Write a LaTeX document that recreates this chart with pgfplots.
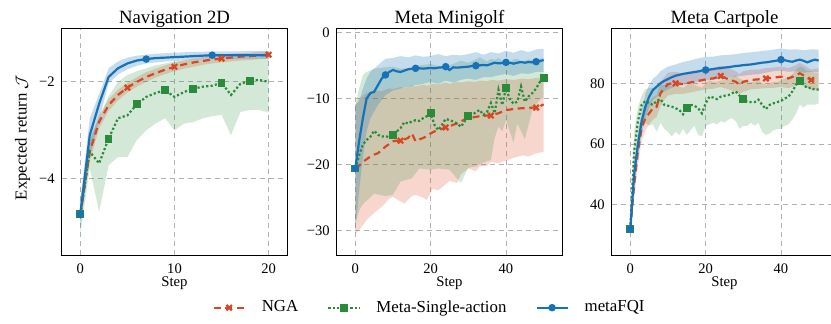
\documentclass[border=0pt]{standalone}
\usepackage{pgfplots}
\pgfplotsset{compat=1.18}
\usepackage{pgfplotstable}
\usepgfplotslibrary{fillbetween}
\usepackage{fontspec}
\setmainfont{Liberation Serif}

\definecolor{ngared}{RGB}{217,70,34}
\definecolor{msagreen}{RGB}{42,140,58}
\definecolor{fqiblue}{RGB}{22,114,184}

% Panel 1: Navigation 2D
\pgfplotstableread{
x fqi fqil fqiu nga ngal ngau msa msal msau
0 -4.73 -5.00 -4.45 -4.73 -4.88 -4.58 -4.73 -5.15 -4.40
1 -3.10 -3.55 -2.75 -3.44 -3.64 -3.24 -3.44 -3.78 -3.16
2 -2.45 -2.78 -2.25 -2.82 -2.96 -2.68 -3.68 -4.68 -2.75
3 -1.90 -2.03 -1.72 -2.48 -2.60 -2.36 -3.17 -3.72 -2.30
4 -1.72 -1.85 -1.58 -2.27 -2.38 -2.16 -2.75 -3.55 -2.00
5 -1.62 -1.74 -1.50 -2.12 -2.22 -2.02 -2.69 -3.55 -1.86
6 -1.56 -1.67 -1.46 -2.00 -2.10 -1.90 -2.46 -3.20 -1.78
7 -1.53 -1.62 -1.44 -1.90 -2.00 -1.80 -2.31 -3.00 -1.72
8 -1.51 -1.60 -1.42 -1.82 -1.91 -1.73 -2.23 -2.86 -1.66
9 -1.50 -1.58 -1.41 -1.75 -1.84 -1.66 -2.17 -2.75 -1.62
10 -1.49 -1.57 -1.40 -1.69 -1.78 -1.60 -2.31 -3.00 -1.58
11 -1.48 -1.56 -1.39 -1.64 -1.73 -1.56 -2.21 -2.86 -1.56
12 -1.47 -1.55 -1.38 -1.60 -1.69 -1.52 -2.14 -2.83 -1.55
13 -1.46 -1.54 -1.38 -1.57 -1.65 -1.49 -2.10 -2.75 -1.54
14 -1.45 -1.53 -1.37 -1.54 -1.62 -1.46 -2.08 -2.71 -1.53
15 -1.45 -1.53 -1.37 -1.52 -1.60 -1.44 -2.02 -2.68 -1.52
16 -1.45 -1.53 -1.37 -1.50 -1.58 -1.42 -2.27 -3.10 -1.52
17 -1.45 -1.52 -1.37 -1.48 -1.56 -1.41 -2.04 -2.62 -1.50
18 -1.45 -1.52 -1.36 -1.47 -1.55 -1.40 -1.98 -2.58 -1.50
19 -1.45 -1.52 -1.36 -1.455 -1.53 -1.38 -1.96 -2.58 -1.50
20 -1.45 -1.52 -1.36 -1.44 -1.52 -1.37 -2.00 -2.63 -1.50
}\pone

% Panel 2: Meta Minigolf
\pgfplotstableread{
x nga msa fqi
0 -20.6 -20.6 -20.6
1 -20.2 -18.6 -16.5
2 -19.6 -17.0 -13.0
3 -19.2 -16.3 -10.0
4 -18.8 -15.8 -9.2
5 -18.5 -14.9 -9.0
6 -18.3 -15.5 -8.0
7 -17.8 -15.8 -7.0
8 -17.3 -15.7 -6.45
9 -16.9 -15.9 -6.0
10 -16.5 -15.5 -5.7
11 -16.4 -15.0 -5.9
12 -16.4 -14.5 -6.0
13 -16.2 -13.6 -5.8
14 -16.0 -13.8 -5.6
15 -15.3 -13.5 -5.5
16 -16.5 -13.3 -5.45
17 -16.2 -13.4 -5.45
18 -16.0 -13.0 -5.5
19 -15.7 -12.7 -5.45
20 -15.3 -12.25 -5.4
21 -15.0 -14.0 -5.45
22 -14.8 -14.8 -5.35
23 -14.6 -14.0 -5.3
24 -14.4 -13.1 -5.2
25 -14.2 -13.3 -5.7
26 -14.0 -13.5 -5.3
27 -13.8 -13.8 -5.35
28 -13.5 -14.3 -5.3
29 -13.2 -13.5 -5.25
30 -13.0 -12.65 -5.2
31 -12.9 -12.5 -5.1
32 -12.8 -12.1 -5.05
33 -12.7 -11.75 -5.0
34 -12.65 -12.5 -4.95
35 -12.6 -12.0 -5.0
36 -12.6 -10.7 -4.8
37 -12.4 -12.25 -4.6
38 -12.25 -8.7 -4.7
39 -12.0 -11.0 -4.65
40 -11.75 -8.47 -4.55
41 -11.7 -10.1 -4.6
42 -11.6 -10.8 -4.75
43 -11.55 -10.5 -4.6
44 -11.5 -8.2 -4.5
45 -11.5 -10.5 -4.6
46 -11.45 -9.7 -4.5
47 -11.4 -9.2 -4.55
48 -11.4 -8.5 -4.45
49 -11.2 -7.5 -4.35
50 -10.9 -6.86 -4.2
}\ptwo

\pgfplotstableread{
x lo hi
0 -30.5 -11
1 -29.9 -10
3 -28.4 -9.2
5 -27.3 -8.8
7 -26.4 -8.9
9 -25.2 -8.5
10 -24.9 -8.6
12 -25.6 -8.3
13 -25.9 -8.4
15 -24.8 -8.0
16 -24.6 -8.2
18 -25.0 -7.9
19 -25.4 -8.1
20.5 -23.7 -7.8
22 -23.9 -7.9
24 -23.0 -7.6
25 -22.5 -7.8
27 -22.8 -7.5
28 -21.5 -7.6
30 -20.6 -7.4
32 -21.0 -7.5
33 -20.3 -7.3
35 -20.2 -7.4
36 -19.6 -7.2
38 -19.8 -7.3
40 -19.4 -7.1
42 -19.0 -7.2
44.5 -18.6 -7.0
46 -18.8 -7.1
48 -18.3 -6.9
50 -18.1 -6.8
}\ptwonga

\pgfplotstableread{
x lo hi
0 -29 -11
1 -27 -8.5
2 -26 -6.5
3 -25.5 -6.0
5 -24.4 -5.5
8 -24.8 -5.3
10 -24.6 -5.2
12 -22.6 -5.5
15 -22.1 -5.4
17 -20.6 -5.0
20 -20.8 -4.8
22 -20.6 -5.1
25 -20.8 -5.0
28 -22.8 -4.3
30 -20.5 -4.6
32 -20.3 -4.1
33 -20.0 -3.8
35 -19.5 -4.4
36 -19.3 -4.0
37 -16.0 -4.2
38 -14.3 -3.9
39 -15.0 -4.3
40 -13.3 -4.2
41 -15.0 -4.5
42 -16.7 -4.1
43 -13.8 -4.0
44 -15.0 -4.4
45 -16.2 -4.3
46 -14.0 -4.1
47 -11.7 -4.2
49 -10.2 -4.0
50 -9.9 -3.9
}\ptwomsa

\pgfplotstableread{
x lo hi
0 -30 -11
1 -24 -10.5
2 -19 -8.5
3 -15 -7
4 -13 -6
6 -11 -5
8 -9.5 -4.0
10 -8.8 -3.9
12 -8.5 -3.6
14 -8.2 -3.8
16 -8.0 -3.5
18 -7.8 -3.7
20 -7.5 -3.6
22 -7.8 -3.3
24 -7.3 -3.6
26 -7.6 -3.4
28 -7.2 -3.5
30 -7.0 -3.3
32 -7.2 -3.0
34 -6.8 -3.4
36 -6.8 -3.0
38 -6.5 -3.2
40 -6.3 -2.8
42 -6.6 -3.1
44 -6.2 -2.7
46 -6.3 -3.0
48 -6.0 -2.6
50 -6.0 -2.5
}\ptwofqi

% Panel 3: Meta Cartpole
\pgfplotstableread{
x nga msa fqi
0 32.0 32.0 32.0
1 46.5 57.5 49.8
2 57.5 67.4 59.7
3 65.2 72.9 67.4
4 68.5 74.2 72.3
5 70.1 73.4 75.6
6 71.8 72.9 77.8
7 72.3 74.2 78.9
8 76.7 74.8 80.0
9 78.4 72.9 80.8
10 79.7 72.6 81.4
11 80.0 72.3 82.0
12 80.0 71.8 82.5
13 79.9 71.2 82.8
14 79.7 69.8 83.1
15 80.0 71.8 83.3
16 80.3 72.9 83.5
17 80.5 72.6 83.7
18 80.8 71.8 83.9
19 81.0 70.1 84.2
20 81.3 73.4 84.4
21 81.5 75.6 84.5
22 81.6 75.3 84.7
23 82.0 74.8 84.9
24 82.4 75.6 85.0
25 81.9 75.9 85.2
26 81.3 76.1 85.3
27 80.9 76.7 85.5
28 80.5 77.3 85.7
29 79.5 75.9 85.8
30 80.5 74.7 86.0
31 80.8 74.0 86.1
32 81.1 73.8 86.2
33 81.2 73.8 86.4
34 81.3 74.6 86.6
35 81.4 72.9 86.8
36 81.6 71.5 86.9
37 81.7 72.9 87.1
38 81.9 73.4 87.3
39 82.0 73.8 87.5
40 82.2 74.2 87.8
41 81.9 75.0 87.6
42 81.6 75.6 87.3
43 82.1 77.3 87.1
44 82.7 79.5 87.5
45 83.3 80.8 87.8
46 82.6 79.5 87.4
47 81.8 78.4 86.9
48 81.1 78.6 87.4
49 81.3 77.8 87.8
50 81.6 78.0 87.5
}\pthree

\pgfplotstableread{
x lo hi
0 30.5 33.5
1 42 51
2 53 62
3 61 69
4 64.5 72.5
5 66.5 74
6 68 75.5
7 69 76
8 72.5 80.5
9 74.5 82
10 76 83.5
12 76.5 83.8
14 76.5 83.2
16 77 84
18 77.5 84.2
20 78 84.8
22 78.2 85
24 78.8 85.8
26 78 85
28 77.2 84
29 76.5 83
30 77.2 84
32 78 84.5
34 78.2 84.5
36 78.4 85
38 78.5 85.2
40 78.8 85.5
42 78.4 85
44 79.2 86
45 79.8 86.8
46 79.2 86
48 77.8 84.5
50 78 85
}\pthreenga

\pgfplotstableread{
x lo hi
0 30 33.5
1 50 64
2 60 72
3 66 76
4 67 78
5 66 78.5
6 66.5 78.5
7 64 79
8 67 79.5
9 65 79.5
10 64 79.5
11 62.5 79
12 64 79.5
13 63 79
14 65 78.5
15 63 79.5
16 64.5 80
17 66 79.5
18 63 79
19 62.5 78.5
20 66 80
21 66.5 81
22 67 80.5
23 66.5 80.5
24 67.5 81
25 67 81
26 68 81.5
27 68.5 82
28 67.5 82.5
29 65 81.5
30 66 81
31 66 80.5
32 67 80.5
33 66 80.5
34 67 81
35 64 80
36 63 79.5
37 63.5 80
38 64.5 80.5
39 65 80.5
40 65 81
41 66 81.5
42 66.5 82
43 68 83
44 70 84.5
45 73 85.5
46 72 85
47 73 84
48 73 84
49 73 83.5
50 73.4 83.5
}\pthreemsa

\pgfplotstableread{
x lo hi
0 30.5 33.5
1 46 53.5
2 56 63.5
3 63.5 71
4 68.5 76.5
5 72 79.5
6 74.5 81.5
7 75.5 82.5
8 76.5 84
10 78 85.5
12 79 86.2
14 79.5 87
16 80 87.6
18 80.5 88.2
20 81 88.7
22 81.2 88.8
24 81.5 89.2
26 81.8 89.4
28 82.2 89.6
30 82.5 90
32 82.8 90.2
34 83 90.5
36 83.5 90.8
38 84 91.1
40 84.2 91.5
42 83.8 91.1
44 84 91.2
46 83.5 90.9
48 83.8 91.2
50 83.8 91.1
}\pthreefqi

\pgfplotsset{
  every axis title shift=0pt,
  panel/.style={
    scale only axis, width=113bp, height=113bp,
    anchor=north west,
    grid=major,
    major grid style={dash pattern=on 2.5bp off 2bp, gray!60, line width=0.4bp},
    axis line style={line width=0.5bp},
    tick style={draw=none},
    tick label style={font=\rmfamily\fontsize{7.3}{8}\selectfont},
    xticklabel style={anchor=base, yshift=-9.15bp},
    yticklabel style={anchor=east, inner sep=0pt, xshift=-3.25bp},
    title style={font=\rmfamily\fontsize{9.4}{11}\selectfont, at={(axis description cs:0.5,1)}, anchor=base, yshift=2.85bp},
    xlabel={Step},
    xlabel style={font=\rmfamily\fontsize{7.4}{9}\selectfont, at={(axis description cs:0.5,0)}, anchor=base, yshift=-15.85bp},
    legend image code/.code={\draw[mark repeat=2,mark phase=2,##1] plot coordinates {(0bp,0bp) (7.75bp,0bp) (15.5bp,0bp)};},
  },
  ngaline/.style={ngared, line width=1.1bp, dash pattern=on 3.5bp off 2.3bp, mark=x, mark size=1.9bp, mark options={solid, line width=1.1bp}},
  msaline/.style={msagreen, line width=1.1bp, dash pattern=on 1.1bp off 1.1bp, mark=square*, mark size=1.4bp, mark options={solid}},
  fqiline/.style={fqiblue, line width=1.1bp, mark=*, mark size=1.3bp, mark options={solid}},
  band/.style={draw=none, forget plot},
}

\begin{document}
\begin{tikzpicture}
% ---------------- Panel 1 ----------------
\begin{axis}[panel, at={(30.75bp,147.5bp)},
  title={Navigation 2D},
  xmin=-2, xmax=22, ymin=-5.57, ymax=-0.91,
  xtick={0,10,20}, xticklabels={0,10,20},
  ytick={-4,-2}, yticklabels={−4,−2},
  ylabel={Expected return $\mathcal{J}$},
  ylabel style={font=\rmfamily\fontsize{8.4}{10}\selectfont, at={(axis description cs:-0.154,0.52)}, anchor=base},
]
\addplot[band, name path=aNU] table[x=x,y=ngau]{\pone};
\addplot[band, name path=aNL] table[x=x,y=ngal]{\pone};
\addplot[fill=ngared, fill opacity=0.22, forget plot] fill between[of=aNU and aNL];
\addplot[band, name path=aMU] table[x=x,y=msau]{\pone};
\addplot[band, name path=aML] table[x=x,y=msal]{\pone};
\addplot[fill=msagreen, fill opacity=0.2, forget plot] fill between[of=aMU and aML];
\addplot[band, name path=aFU] table[x=x,y=fqiu]{\pone};
\addplot[band, name path=aFL] table[x=x,y=fqil]{\pone};
\addplot[fill=fqiblue, fill opacity=0.25, forget plot] fill between[of=aFU and aFL];
\addplot[ngaline, mark repeat=5] table[x=x,y=nga]{\pone};
\addplot[msaline, mark repeat=3] table[x=x,y=msa]{\pone};
\addplot[fqiline, mark repeat=7] table[x=x,y=fqi]{\pone};
\end{axis}
% ---------------- Panel 2 ----------------
\begin{axis}[panel, at={(168.25bp,147.5bp)},
  title={Meta Minigolf},
  xmin=-5, xmax=55, ymin=-33.7, ymax=0.5,
  xtick={0,20,40}, xticklabels={0,20,40},
  ytick={-30,-20,-10,0}, yticklabels={−30,−20,−10,0},
  legend style={at={(axis description cs:0.414,-0.233)}, anchor=center, draw=none, fill=none,
    font=\rmfamily\fontsize{8.45}{10}\selectfont, legend columns=3,
    /tikz/every odd column/.append style={column sep=6.5bp},
    /tikz/every even column/.append style={column sep=13bp},
    nodes={inner sep=1.5bp}},
]
\addplot[band, name path=bNU] table[x=x,y=hi]{\ptwonga};
\addplot[band, name path=bNL] table[x=x,y=lo]{\ptwonga};
\addplot[fill=ngared, fill opacity=0.22, forget plot] fill between[of=bNU and bNL];
\addplot[band, name path=bMU] table[x=x,y=hi]{\ptwomsa};
\addplot[band, name path=bML] table[x=x,y=lo]{\ptwomsa};
\addplot[fill=msagreen, fill opacity=0.2, forget plot] fill between[of=bMU and bML];
\addplot[band, name path=bFU] table[x=x,y=hi]{\ptwofqi};
\addplot[band, name path=bFL] table[x=x,y=lo]{\ptwofqi};
\addplot[fill=fqiblue, fill opacity=0.25, forget plot] fill between[of=bFU and bFL];
\addplot[ngaline, mark repeat=12] table[x=x,y=nga]{\ptwo};
\addplot[msaline, mark repeat=10] table[x=x,y=msa]{\ptwo};
\addplot[fqiline, mark repeat=8] table[x=x,y=fqi]{\ptwo};
\legend{NGA, Meta-Single-action, metaFQI}
\end{axis}
% ---------------- Panel 3 ----------------
\begin{axis}[panel, at={(305.75bp,147.5bp)},
  title={Meta Cartpole},
  xmin=-5, xmax=55, ymin=23.4, ymax=97.9,
  xtick={0,20,40}, xticklabels={0,20,40},
  ytick={40,60,80}, yticklabels={40,60,80},
]
\addplot[band, name path=cNU] table[x=x,y=hi]{\pthreenga};
\addplot[band, name path=cNL] table[x=x,y=lo]{\pthreenga};
\addplot[fill=ngared, fill opacity=0.22, forget plot] fill between[of=cNU and cNL];
\addplot[band, name path=cMU] table[x=x,y=hi]{\pthreemsa};
\addplot[band, name path=cML] table[x=x,y=lo]{\pthreemsa};
\addplot[fill=msagreen, fill opacity=0.2, forget plot] fill between[of=cMU and cML];
\addplot[band, name path=cFU] table[x=x,y=hi]{\pthreefqi};
\addplot[band, name path=cFL] table[x=x,y=lo]{\pthreefqi};
\addplot[fill=fqiblue, fill opacity=0.25, forget plot] fill between[of=cFU and cFL];
\addplot[ngaline, mark repeat=12] table[x=x,y=nga]{\pthree};
\addplot[msaline, mark repeat=15] table[x=x,y=msa]{\pthree};
\addplot[fqiline, mark repeat=20] table[x=x,y=fqi]{\pthree};
\end{axis}
\pgfresetboundingbox
\path[use as bounding box] (0,0) rectangle (415.5bp,162bp);
\end{tikzpicture}
\end{document}
